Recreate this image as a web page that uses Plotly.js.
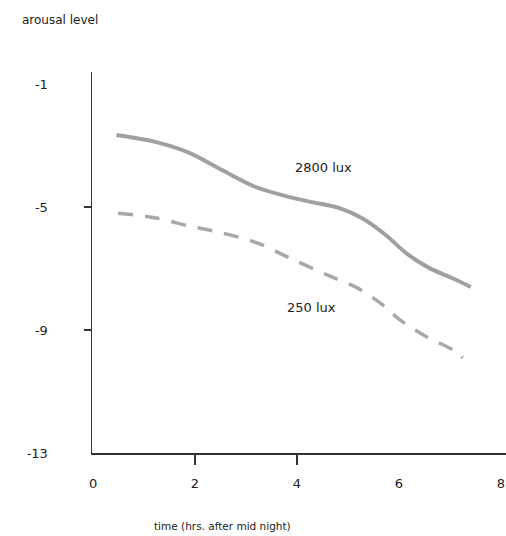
<!DOCTYPE html>
<html>
<head>
<meta charset="utf-8">
<script src="https://cdn.plot.ly/plotly-3.0.1.min.js"></script>
<style>html,body{margin:0;padding:0;background:#fff;}#chart{width:506px;height:536px;}</style>
</head>
<body>
<div id="chart"></div>
<script>
// time (hrs after midnight)
const hours2800 = [0.46, 1.24, 1.89, 2.53, 3.19, 3.84, 4.29, 4.82, 5.27, 5.74, 6.14, 6.59, 7.04, 7.41];
const arousal2800 = [-2.66, -2.89, -3.24, -3.80, -4.35, -4.67, -4.84, -5.03, -5.36, -5.91, -6.50, -6.98, -7.31, -7.60];
const hours250 = [0.49, 1.24, 1.89, 2.55, 3.22, 3.86, 4.59, 5.18, 5.63, 6.02, 6.55, 7.06, 7.25];
const arousal250 = [-5.2, -5.36, -5.62, -5.85, -6.17, -6.66, -7.21, -7.63, -8.12, -8.67, -9.23, -9.65, -9.91];
const xTicks = [0, 2, 4, 6, 8];
const xTickLabels = ['0', '2', '4', '6', '8'];
const yTicks = [-1, -5, -9, -13];
const yTickLabels = ['-1', '-5', '-9', '-13'];
const xMarked = [2, 4];
const yMarked = [-5, -9];
const seriesNames = ['2800 lux', '250 lux'];
const labelPos = {x: [4.53, 4.29], y: [-3.70, -8.28]};

const font = {family: 'DejaVu Sans, sans-serif', size: 13, color: '#222'};
const xr = [-0.02, 8.1];
const yr = [-13, -0.61];

const traces = [
  {x: hours2800, y: arousal2800, mode: 'lines', name: seriesNames[0],
   line: {color: '#a0a0a0', width: 4, shape: 'spline', smoothing: 0.9}, hoverinfo: 'skip'},
  {x: hours250, y: arousal250, mode: 'lines', name: seriesNames[1],
   line: {color: '#a8a8a8', width: 3.5, dash: '15px,12px', shape: 'spline', smoothing: 0.9}, hoverinfo: 'skip'}
];

const layout = {
  width: 506, height: 536,
  margin: {l: 92, r: 0, t: 72, b: 83},
  paper_bgcolor: '#ffffff', plot_bgcolor: 'rgba(0,0,0,0)',
  showlegend: false,
  font: font,
  xaxis: {range: xr, tickmode: 'array', tickvals: xTicks, ticktext: xTickLabels, showgrid: false, zeroline: false,
          showline: true, linecolor: '#333', linewidth: 1.5, ticks: '', ticklabelstandoff: 18,
          ticklabeloverflow: 'allow', tickfont: font, fixedrange: true,
          minor: {tickmode: 'array', tickvals: xMarked, ticks: 'outside', ticklen: 10, tickwidth: 1.5,
                  tickcolor: '#333', showgrid: false}},
  yaxis: {range: yr, tickmode: 'array', tickvals: yTicks, ticktext: yTickLabels, showgrid: false, zeroline: false,
          showline: true, linecolor: '#333', linewidth: 1.5, ticks: '', ticklabelstandoff: 40,
          tickfont: font, fixedrange: true,
          minor: {tickmode: 'array', tickvals: yMarked, ticks: 'outside', ticklen: 7, tickwidth: 1.2,
                  tickcolor: '#333', showgrid: false}},
  annotations: [
    {x: labelPos.x[0], y: labelPos.y[0], xref: 'x', yref: 'y', text: seriesNames[0], showarrow: false, font: font},
    {x: labelPos.x[1], y: labelPos.y[1], xref: 'x', yref: 'y', text: seriesNames[1], showarrow: false, font: font},
    {xref: 'paper', yref: 'paper', text: 'arousal level', showarrow: false,
     font: {family: 'DejaVu Sans, sans-serif', size: 12, color: '#222'}, xanchor: 'left', yanchor: 'middle'},
    {xref: 'paper', yref: 'paper', text: 'time (hrs. after mid night)', showarrow: false,
     font: {family: 'DejaVu Sans, sans-serif', size: 10.5, color: '#222'}, xanchor: 'center', yanchor: 'middle'}
  ]
};
// convert pixel-placed page labels to paper coordinates
const pw = 506 - 92, ph = 536 - 72 - 83;
layout.annotations[2].x = (20 - 92) / pw; layout.annotations[2].y = 1 - (20 - 72) / ph;
layout.annotations[3].x = (222 - 92) / pw; layout.annotations[3].y = 1 - (526 - 72) / ph;

Plotly.newPlot('chart', traces, layout, {staticPlot: true, displayModeBar: false});
</script>
</body>
</html>
